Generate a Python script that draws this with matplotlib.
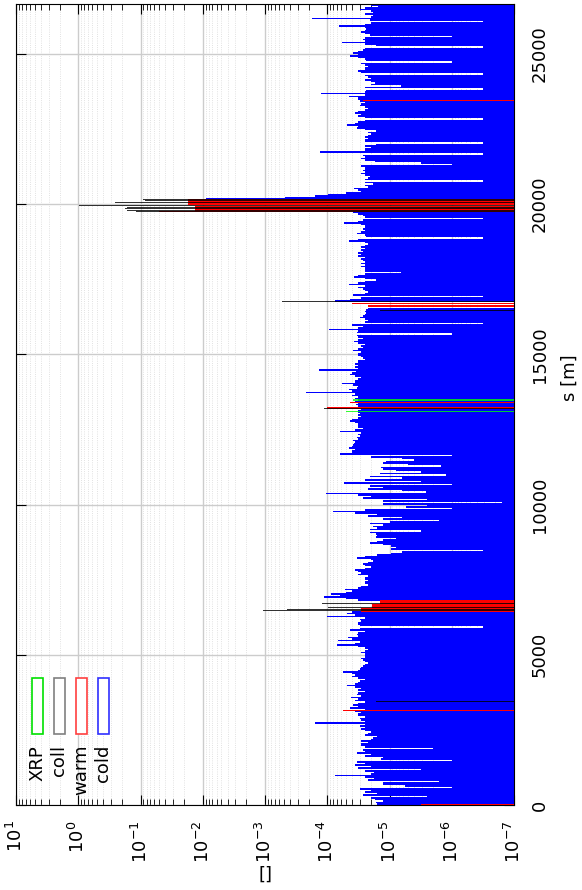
import numpy as np
import matplotlib
matplotlib.use("Agg")
import matplotlib.pyplot as plt
from matplotlib.patches import Rectangle
from matplotlib.ticker import NullFormatter

# loss map along the ring, drawn rotated (s upwards, loss leftwards)
ring_length = 26659.0
bin_width = 50.0
floor = 1e-7

# cold losses: log10 of the value in each 50 m bin, starting at s = 0 (nan = empty)
nan = np.nan
cold_exp = [
    -4.8, -4.79, -4.9, -4.76, -4.7, -5.6, -4.58, -4.8, -4.6, -4.7, -4.52, -6.0, -5.25, -4.9, -4.9, -5.8, -4.66, -4.75, -4.6, -4.12,
    -4.7, -4.75, -4.6, -5.5, -4.5, -4.7, -4.44, -4.6, -4.47, -6.0, -4.87, -4.9, -4.6, -4.7, -4.47, -4.6, -4.58, -5.7, -4.6, -4.55,
    -4.55, -4.65, -4.55, -4.7, -4.74, -4.8, -4.6, -4.65, -4.7, -4.6, -4.55, -4.6, -4.52, -4.6, -3.8, -4.6, -4.55, -4.52, -4.6, -4.5,
    -4.5, -4.55, -4.45, -4.6, -4.36, -4.5, -4.42, -4.5, -4.6, -4.44, -4.5, -4.38, -4.55, -4.47, -4.5, -4.6, -4.5, -4.55, -4.45, -4.31,
    -4.45, -4.5, -4.52, -4.6, -4.5, -4.39, -4.45, -4.39, -4.26, -4.5, -4.52, -4.55, -4.58, -4.6, -4.66, -4.6, -4.58, -4.55, -4.6, -4.6,
    -4.6, -4.55, -4.6, -4.65, -4.6, -4.5, -4.15, -4.45, -4.52, -4.18, -4.4, -4.34, -4.5, -4.47, -4.5, -4.6, -4.36, -4.53, -6.5, -4.52,
    -4.5, -4.5, -4.55, -4.52, -4.6, -3.99, -4.45, -4.31, -4.4, nan, nan, nan, nan, nan, nan, nan, -4.5, -4.3, -3.94, -4.2,
    -4.06, -4.3, -4.39, -4.28, -4.5, -4.55, -4.66, -4.6, -4.6, -4.66, -4.6, -4.6, -4.65, -4.5, -4.55, -4.5, -4.44, -4.6, -4.71, -4.6,
    -4.58, -4.65, -4.74, -4.7, -4.48, -4.6, -4.8, -5.03, -5.2, -6.5, -5.03, -5.1, -5.03, -4.9, -4.68, -4.8, -4.9, -5.11, -4.79, -4.8,
    -4.79, -4.69, -5.5, -4.69, -4.8, -4.74, -4.9, -4.68, -5.0, -5.8, -4.9, -5.2, -4.66, -4.8, -4.44, -4.1, -4.6, -6.0, -5.27, -5.6,
    -4.9, -6.8, -4.9, -5.6, -4.58, -4.7, -4.5, -3.98, -5.59, -5.2, -4.66, -4.9, -4.69, -6.0, -4.27, -5.5, -4.6, -5.2, -4.69, -5.9,
    -4.85, -5.5, -5.11, -4.9, -4.87, -5.83, -5.3, -4.9, -4.95, -5.4, -5.2, -4.7, -6.0, -4.2, -4.4, -4.39, -4.45, -4.35, -4.4, -4.42,
    -4.43, -4.45, -4.41, -4.5, -4.47, -4.52, -4.5, -4.55, -4.2, -4.45, -4.58, -4.5, -4.5, -4.5, -4.45, -4.36, -4.4, -4.5, -4.55, -4.5,
    -4.52, -4.5, -4.5, -4.55, -4.5, -4.5, -4.46, -4.5, -4.45, -4.5, -4.44, -4.5, -4.39, -4.45, -3.66, -4.4, -4.35, -4.47, -4.5, -4.42,
    -4.23, -4.45, -4.44, -4.5, -4.55, -4.45, -4.36, -4.4, -4.46, -3.87, -4.5, -4.45, -4.5, -4.44, -4.5, -4.5, -4.6, -4.58, -4.55, -4.5,
    -4.5, -4.55, -4.42, -4.5, -4.58, -4.55, -4.6, -4.5, -4.43, -4.5, -4.58, -4.5, -4.47, -6.0, -4.47, -4.5, -4.03, -4.5, -4.58, -4.39,
    -6.5, -4.6, -4.66, -4.6, -4.52, -4.58, -4.6, -4.63, -4.6, -4.63, -4.65, nan, nan, nan, nan, -4.12, -4.36, -4.55, -6.5, -4.42,
    -4.6, -4.66, -4.6, -4.58, -4.5, -4.6, -4.35, -4.5, -4.6, -4.79, -4.6, -4.43, -4.5, -4.6, -5.19, -4.6, -4.6, -4.6, -4.55, -4.6,
    -4.55, -4.6, -4.58, -4.55, -4.6, -4.5, -4.55, -4.5, -4.58, -4.55, -4.6, -4.55, -4.6, -4.66, -4.6, -4.35, -4.5, -6.5, -4.63, -4.6,
    -4.48, -4.55, -4.6, -4.58, -4.6, -4.6, -4.55, -4.27, -4.5, -4.58, -6.5, -4.6, -4.58, -4.5, -4.42, nan, nan, nan, nan, nan,
    nan, nan, nan, -2.06, -3.32, -3.8, -4.02, -4.3, -4.55, -4.5, -4.43, -4.66, -4.6, -4.74, -4.6, -6.5, -4.6, -4.65, -4.68, -4.6,
    -4.55, -4.6, -4.58, -4.6, -4.6, -4.55, -6.0, -5.5, -4.76, -4.6, -4.55, -4.6, -4.58, -6.5, -3.88, -4.6, -4.6, -4.7, -4.6, -4.79,
    -6.5, -4.6, -4.6, -4.65, -4.6, -4.66, -4.7, -4.66, -4.79, -4.6, -4.47, -4.5, -4.31, -4.44, -4.5, -4.6, -6.5, -4.6, -4.5, -4.55,
    -4.44, -4.5, -4.6, -4.66, -4.6, -4.52, -4.55, -4.6, -4.52, -4.5, -4.5, -4.35, -4.6, -3.9, -4.6, -4.63, -6.5, -4.6, -5.19, -4.7,
    -4.76, -4.7, -4.6, -4.71, -4.65, -4.6, -6.5, -4.55, -4.5, -4.6, -4.6, -4.65, -4.6, -4.55, -6.0, -4.63, -4.6, -4.5, -4.36, -4.5,
    -4.42, -4.5, -4.58, -4.6, -6.5, -4.79, -4.6, -4.23, -4.6, -4.58, -4.6, -6.0, -4.68, -4.6, -4.55, -4.6, -4.63, -4.6, -4.19, -4.6,
    -4.71, -6.5, -4.68, -3.76, -4.7, -4.74, -4.6, -4.74, -4.7, -4.52, -4.6, -4.82, -4.7, -4.8,
]

# warm losses: segments [start, end) in m with log10 value
warm_start = [0, 3130, 6420, 6560, 6700, 13170, 13370, 16560, 16660, 19720, 19740, 19780, 19975, 23445]
warm_end = [40, 3170, 6560, 6700, 6830, 13240, 13420, 16640, 16710, 19740, 19780, 19920, 20165, 23475]
warm_exp = [-5.5, -4.25, -4.55, -4.72, -4.85, -3.99, -4.36, -4.65, -4.4, -4.07, -1.3, -1.88, -1.76, -4.58]

# collimator losses: single positions in m with log10 value
coll_s = [3430, 6474, 6497, 6564, 6697, 13190, 16456, 16766,
          19766, 19800, 19855, 19900, 19943, 20060, 20109, 20140, 23130, 26460]
coll_exp = [-4.78, -2.97, -3.35, -4.02, -3.91, -3.94, -4.85, -3.27,
            -0.93, -0.78, -0.75, -0.78, -0.02, -0.59, -1.07, -1.04, -4.82, -3.7]

# XRP losses
xrp_start = [13080, 13460]
xrp_end = [13120, 13500]
xrp_exp = [-4.3, -4.42]

legend_labels = ["XRP", "coll", "warm", "cold"]
legend_colors = ["#00e000", "#808080", "#ff4040", "#3030ff"]
s_ticks = [0, 5000, 10000, 15000, 20000, 25000]
loss_ticks = [1e1, 1e0, 1e-1, 1e-2, 1e-3, 1e-4, 1e-5, 1e-6, 1e-7]

fig = plt.figure(figsize=(5.82, 8.90), dpi=100)
ax = fig.add_axes([16 / 582, 85 / 890, 498 / 582, 801 / 890])
ax.set_xscale("log")

cold = np.array(cold_exp)
s_cold = np.arange(len(cold)) * bin_width
ok = ~np.isnan(cold)
ax.barh(s_cold[ok], 10 ** cold[ok] - floor, left=floor, height=bin_width,
        align="edge", color="#0000ff", linewidth=0, zorder=2)

w_start = np.array(warm_start, dtype=float)
w_h = np.array(warm_end, dtype=float) - w_start
ax.barh(w_start, 10 ** np.array(warm_exp) - floor, left=floor, height=w_h,
        align="edge", color="#ff0000", linewidth=0, zorder=3)

x_start = np.array(xrp_start, dtype=float)
ax.barh(x_start, 10 ** np.array(xrp_exp) - floor, left=floor,
        height=np.array(xrp_end) - x_start, align="edge", color="#00ff00",
        alpha=0.8, linewidth=0, zorder=4)

ax.barh(coll_s, 10 ** np.array(coll_exp) - floor, left=floor, height=30,
        align="center", color="#000000", alpha=0.8, linewidth=0, zorder=5)

ax.set_xlim(10, floor)
ax.set_ylim(0, ring_length)

ax.set_axisbelow(True)
ax.grid(which="major", color="#cccccc", linewidth=1)
ax.grid(which="minor", axis="x", color="#d8d8d8", linewidth=0.6, linestyle=":")

ax.set_xticks(loss_ticks)
ax.xaxis.set_minor_formatter(NullFormatter())
ax.set_yticks(s_ticks)
ax.tick_params(which="both", direction="in", top=True, bottom=True,
               left=True, right=True, labelleft=False, labelright=True,
               labelsize=13)
ax.tick_params(which="major", length=7)
ax.tick_params(which="minor", length=4)
ax.tick_params(axis="x", labelrotation=90, pad=11)
ax.tick_params(axis="y", labelrotation=90, pad=12)
for lab in ax.get_yticklabels():
    lab.set_va("center")

ax.set_xlabel("[]", fontsize=13)
ax.xaxis.set_label_coords(0.5, -0.087)
ax.xaxis.label.set_va("center")
ax.yaxis.set_label_position("right")
ax.set_ylabel("s [m]", fontsize=13, rotation=90)
ax.yaxis.set_label_coords(1.112, 0.533)
ax.yaxis.label.set_va("center")
ax.yaxis.label.set_ha("center")

# rotated legend: outlined boxes with labels underneath
for i, (lab, col) in enumerate(zip(legend_labels, legend_colors)):
    x0 = 0.032 + i * 0.0442
    ax.add_patch(Rectangle((x0, 0.0886), 0.022, 0.07, transform=ax.transAxes,
                           facecolor="white", edgecolor=col, linewidth=1.2,
                           zorder=6))
    ax.text(x0 + 0.011, 0.075, lab, transform=ax.transAxes, rotation=90,
            rotation_mode="anchor", ha="right", va="center", fontsize=13,
            zorder=6)

fig.savefig("out.png", dpi=100)
